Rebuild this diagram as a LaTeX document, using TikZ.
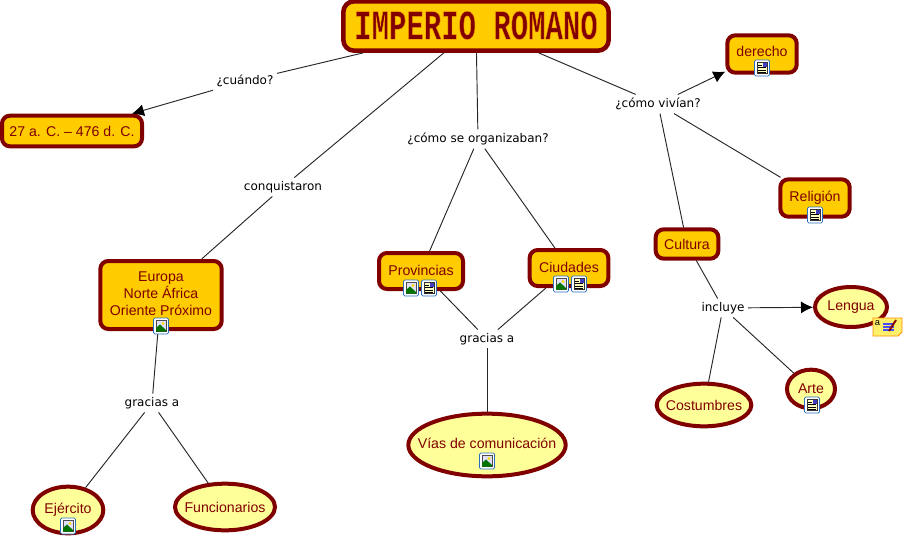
\documentclass[tikz,border=0pt]{standalone}
\usepackage{fontspec}
\usetikzlibrary{arrows.meta, shapes.geometric}
\setmainfont{Liberation Sans}
\newfontfamily\labelfont{DejaVu Sans}
\newfontfamily\titlefont[FakeStretch=0.69]{Liberation Mono Bold}
\definecolor{marron}{HTML}{800000}
\definecolor{oro}{HTML}{FFCC00}
\definecolor{crema}{HTML}{FFFF99}
\definecolor{azulicono}{HTML}{2A6FC0}
\newcommand{\etiq}[1]{\makebox[0pt]{#1}}
\newcommand{\subir}[2]{\raisebox{#1}{#2}}
\tikzset{
  concepto/.style={draw=marron, fill=oro, text=marron, line width=3pt, rounded corners=6pt, inner sep=0pt, align=center, font=\fontsize{10.6}{12.5}\selectfont},
  elipse/.style={concepto, ellipse, fill=crema, rounded corners=0pt},
  enlace/.style={font=\labelfont\fontsize{9}{11}\selectfont, inner sep=2.5pt},
  linea/.style={draw=black!85, line width=0.7pt},
  flecha/.style={linea, -{Latex[length=9pt, width=9pt, color=black]}},
  % icons, 15 px wide
  imgicono/.pic={
    \draw[azulicono, fill=white, line width=0.6pt, rounded corners=1pt] (-7.5,-8) rectangle (7.5,8);
    \draw[black!70, fill=blue!12, line width=0.4pt] (-5,-5.5) rectangle (5,5.5);
    \fill[yellow!80!orange] (2,-2.5) circle (1.6);
    \fill[green!45!black] (-5,5.5) -- (-5,2) -- (-1,-1.5) -- (5,4) -- (5,5.5) -- cycle;
  },
  docicono/.pic={
    \draw[azulicono, fill=white, line width=0.6pt, rounded corners=1pt] (-7.5,-8) rectangle (7.5,8);
    \draw[black!80, fill=crema!60, line width=0.4pt] (-5,-5.5) rectangle (5,5.5);
    \fill[blue!50!gray] (0.5,-5) rectangle (4.5,-1);
    \draw[black, line width=0.4pt] (-3.8,-3) -- (-0.5,-3) (-3.8,-0.5) -- (3.8,-0.5) (-3.8,2) -- (3.8,2) (-3.8,4) -- (3.8,4);
  },
  notaicono/.pic={
    \draw[orange!90!yellow, fill=crema!70!oro, line width=0.6pt] (-15,-9) -- (14,-9) -- (14,5) -- (10,9) -- (-15,9) -- cycle;
    \node[inner sep=0pt, font=\fontsize{7}{7}\selectfont] (notaA) at (-10.5,-3.5) {a};
    \draw[blue!70, line width=0.8pt] (-5,-3) -- (6,-3) (-5,0) -- (6,0) (-5,3) -- (6,3);
    \draw[marron, line width=1.4pt] (1,4) -- (8,-7);
  },
}
\begin{document}
\begin{tikzpicture}[x=0.75pt, y=-0.75pt]
    \path[use as bounding box] (0,0) rectangle (906,539);
    % Title
    \node[concepto, line width=3.4pt, rounded corners=8pt, minimum width=199pt, minimum height=37pt]
      (imperio) at (476,26) {\titlefont\fontsize{31.5}{32}\selectfont\textcolor{marron}{\special{pdf:code 2 Tr 0.35 w 1 0.62 0 RG}\raisebox{1.2pt}{IMPERIO ROMANO}\special{pdf:code 0 Tr 0 w}}};
    % Concepts
    \node[concepto, minimum width=105pt, minimum height=23pt] (fechas) at (72,131) {27 a. C. -- 476 d. C.};
    \node[concepto, minimum width=52pt, minimum height=28pt] (derecho) at (762,54) {\subir{4.5pt}{derecho}};
    \node[concepto, minimum width=52pt, minimum height=28pt] (religion) at (815,198) {\subir{1.5pt}{Religión}};
    \node[concepto, minimum width=47pt, minimum height=22pt] (cultura) at (687,244) {Cultura};
    \node[concepto, minimum width=63pt, minimum height=27pt] (provincias) at (421,271) {\subir{1.5pt}{Provincias}};
    \node[concepto, minimum width=59pt, minimum height=27pt] (ciudades) at (569,268) {\subir{1.5pt}{Ciudades}};
    \node[concepto, minimum width=91pt, minimum height=51pt] (europa) at (161,295) {\subir{1.5pt}{\begin{tabular}{@{}c@{}}Europa\\Norte África\\Oriente Próximo\end{tabular}}};
    % Ellipses
    \node[elipse, minimum width=54pt, minimum height=30pt] (lengua) at (851,307) {\etiq{Lengua}};
    \node[elipse, minimum width=36pt, minimum height=29pt] (arte) at (811,389) {\etiq{Arte}};
    \node[elipse, minimum width=71pt, minimum height=32pt] (costumbres) at (704,405) {\etiq{Costumbres}};
    \node[elipse, minimum width=118pt, minimum height=47pt] (vias) at (487,445) {\etiq{\subir{2pt}{Vías de comunicación}}};
    \node[elipse, minimum width=53pt, minimum height=35pt] (ejercito) at (68,510) {\etiq{\subir{2pt}{Ejército}}};
    \node[elipse, minimum width=75pt, minimum height=35pt] (funcionarios) at (225,507) {\etiq{Funcionarios}};
    % Link labels
    \node[enlace] (cuando) at (245,81) {¿cuándo?};
    \node[enlace] (conquistaron) at (283,187) {conquistaron};
    \node[enlace] (organizaban) at (478,139) {¿cómo se organizaban?};
    \node[enlace] (vivian) at (658,104) {¿cómo vivían?};
    \node[enlace] (graciasa) at (152,403) {gracias a};
    \node[enlace] (graciasb) at (487,339) {gracias a};
    \node[enlace] (incluye) at (723,308) {incluye};
    % Connectors
    \draw[linea] (imperio) -- (cuando);
    \draw[flecha] (cuando) -- (fechas);
    \draw[linea] (imperio) -- (conquistaron);
    \draw[linea] (conquistaron) -- (europa);
    \draw[linea] (europa) -- (graciasa);
    \draw[linea] (graciasa) -- (ejercito);
    \draw[linea] (graciasa) -- (funcionarios);
    \draw[linea] (imperio) -- (organizaban);
    \draw[linea] (organizaban) -- (provincias);
    \draw[linea] (organizaban) -- (ciudades);
    \draw[linea] (provincias) -- (graciasb);
    \draw[linea] (ciudades) -- (graciasb);
    \draw[linea] (graciasb) -- (vias);
    \draw[linea] (imperio) -- (vivian);
    \draw[flecha] (vivian) -- (derecho);
    \draw[linea] (vivian) -- (religion);
    \draw[linea] (vivian) -- (cultura);
    \draw[linea] (cultura) -- (incluye);
    \draw[flecha] (incluye) -- (lengua);
    \draw[linea] (incluye) -- (costumbres);
    \draw[linea] (incluye) -- (arte);
    % Icons
    \pic at (762,68) {docicono};
    \pic at (815,215) {docicono};
    \pic at (411,288) {imgicono};
    \pic at (429,288) {docicono};
    \pic at (561,284) {imgicono};
    \pic at (579,284) {docicono};
    \pic at (161,326) {imgicono};
    \pic at (487,461) {imgicono};
    \pic at (68,526) {imgicono};
    \pic at (812,405) {docicono};
    \pic at (888,327) {notaicono};
\end{tikzpicture}
\end{document}
